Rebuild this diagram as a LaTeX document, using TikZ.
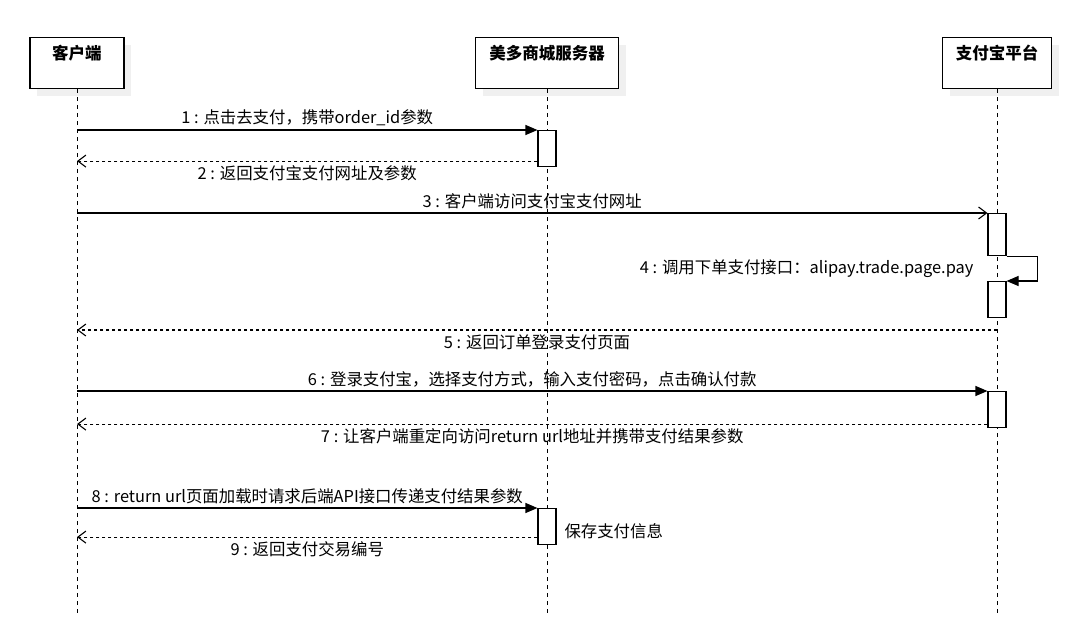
\documentclass[tikz,border=0pt]{standalone}
\usepackage{fontspec}
\setmainfont{Noto Sans CJK SC}
\usetikzlibrary{arrows.meta,shadows}

\tikzset{
  actor/.style={draw, line width=1.1pt, fill=white, inner xsep=0pt, inner ysep=0pt,
    text height=22pt, text depth=29pt, anchor=north,
    font=\fontsize{16.5}{18}\selectfont\bfseries,
    drop shadow={shadow xshift=7pt, shadow yshift=-7pt, fill=black!6, opacity=1}},
  life/.style={line width=1pt, dash pattern=on 4pt off 4pt},
  act/.style={draw, line width=1.1pt, fill=white, minimum width=18pt, inner sep=0pt, anchor=north},
  msg/.style={line width=1.1pt, -{Triangle[length=12pt,width=10pt]}},
  call/.style={line width=1.1pt, -{Straight Barb[length=8pt,width=12pt]}},
  ret/.style={line width=1.1pt, dash pattern=on 3pt off 3pt, -{Straight Barb[length=8pt,width=12pt]}},
  lbl/.style={font=\fontsize{16.4}{18}\selectfont}
}

\begin{document}
\begin{tikzpicture}[x=1pt,y=-1pt]
    \useasboundingbox (0,0) rectangle (1080,638);
    % participants
    \node[actor, minimum width=94pt] (client) at (77,37) {客户端};
    \node[actor, minimum width=143pt] (server) at (547,37) {美多商城服务器};
    \node[actor, minimum width=109pt] (alipay) at (997,37) {支付宝平台};
    \coordinate (bottom) at (0,615);
    \draw[life] (client.south) -- (client.south |- bottom);
    \draw[life] (server.south) -- (server.south |- bottom);
    \draw[life] (alipay.south) -- (alipay.south |- bottom);
    % activations
    \node[act, minimum height=36pt] (srv1) at (547,130) {};
    \node[act, minimum height=42pt] (ali1) at (997,213) {};
    \node[act, minimum height=36pt] (ali2) at (997,281) {};
    \node[act, minimum height=36pt] (ali3) at (997,391) {};
    \node[act, minimum height=36pt] (srv2) at (547,508) {};
    % messages
    \draw[msg] (client |- srv1.north) -- (srv1.north west)
        node[lbl, midway, above=0pt] {1 : 点击去支付，携带order\_id参数};
    \coordinate (r2) at ([yshift=6pt]srv1.south west);
    \draw[ret] (r2) -- (r2 -| client)
        node[lbl, midway, below=1pt] {2 : 返回支付宝支付网址及参数};
    \draw[call] (client |- ali1.north) -- (ali1.north west)
        node[lbl, midway, above=0pt] {3 : 客户端访问支付宝支付网址};
    \draw[msg] (ali1.south east) -- ++(31,0) |- (ali2.north east);
    \node[lbl, anchor=east] (lbl4) at (977,269) {4 : 调用下单支付接口：alipay.trade.page.pay};
    \coordinate (r5) at (997,330);
    \draw[ret] (r5) -- (r5 -| client)
        node[lbl, midway, below=1pt] {5 : 返回订单登录支付页面};
    \draw[msg] (client |- ali3.north) -- (ali3.north west)
        node[lbl, midway, above=0pt] {6 : 登录支付宝，选择支付方式，输入支付密码，点击确认付款};
    \coordinate (r7) at ([yshift=4pt]ali3.south west);
    \draw[ret] (r7) -- (r7 -| client)
        node[lbl, midway, below=1pt] {7 : 让客户端重定向访问return url地址并携带支付结果参数};
    \draw[msg] (client |- srv2.north) -- (srv2.north west)
        node[lbl, midway, above=0pt] {8 : return url页面加载时请求后端API接口传递支付结果参数};
    \coordinate (r9) at ([yshift=8pt]srv2.south west);
    \draw[ret] (r9) -- (r9 -| client)
        node[lbl, midway, below=1pt] {9 : 返回支付交易编号};
    \node[lbl, anchor=west] (note) at (561,531) {保存支付信息};
\end{tikzpicture}
\end{document}
